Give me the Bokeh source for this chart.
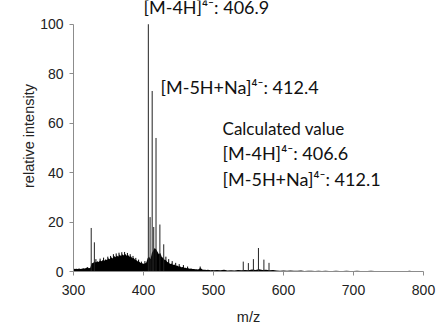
from bokeh.plotting import figure
from bokeh.models import Range1d, FixedTicker, ColumnDataSource
from bokeh.core.properties import value
from bokeh.embed import file_html
from bokeh.resources import INLINE

# ---------------- data ----------------
# broad background envelope (m/z, relative intensity %)
env_mz = [300, 302, 304, 306, 308, 310, 312, 314, 316, 318, 320, 322, 324,
          326, 328, 330, 332, 334, 336, 338, 340, 342, 344, 346, 348, 350,
          352, 354, 356, 358, 360, 362, 364, 366, 368, 370, 372, 374, 376,
          378, 380, 382, 384, 386, 388, 390, 392, 394, 396, 398, 400, 402,
          404, 406, 408, 410, 412, 414, 416, 418, 420, 422, 424, 426, 428,
          430, 432, 434, 436, 438, 440, 442, 444, 446, 448, 450, 452, 454,
          456, 458, 460, 462, 464, 466, 468, 470, 472, 474, 476, 478, 480,
          482, 484, 486, 488, 490, 492, 494, 496, 498, 500,
          505, 510, 515, 520, 525, 530, 535, 540, 545, 550, 555, 560, 565,
          570, 575, 580, 585, 590, 595, 600, 605, 610, 615, 620, 625, 630,
          635, 640, 645, 650, 655, 660, 665, 670, 675, 680, 685, 690, 695,
          700, 705, 710, 715, 720, 725, 730, 735, 740, 745, 750, 755, 760,
          765, 770, 775, 780, 785, 790, 795, 800]
env_int = [1.2, 1.0, 1.1, 1.0, 1.2, 1.0, 1.1, 1.3, 1.2, 1.4, 1.8, 1.3, 1.5,
           3.3, 3.4, 4.0, 3.6, 4.1, 3.8, 4.4, 4.1, 4.7, 4.3, 5.0, 4.6, 5.4,
           5.0, 5.8, 5.3, 6.3, 5.8, 6.5, 6.0, 6.9, 6.2, 7.0, 6.5, 7.1, 6.4,
           6.7, 6.0, 6.2, 5.4, 5.5, 4.8, 4.6, 4.0, 3.9, 3.4, 3.3, 3.1, 3.2,
           3.6, 5.5, 6.0, 5.0, 7.5, 8.5, 9.5, 9.0, 8.0, 7.0, 7.5, 6.0, 5.5,
           4.8, 4.5, 3.8, 3.6, 3.0, 3.2, 2.6, 2.8, 2.3, 2.4, 2.0, 2.1, 1.7,
           1.8, 1.5, 1.5, 1.3, 1.3, 1.1, 1.2, 1.0, 1.0, 0.9, 0.9, 0.8, 1.2,
           1.3, 0.8, 0.7, 0.7, 0.6, 0.7, 0.6, 0.5, 0.6, 0.5,
           0.6, 0.5, 0.7, 0.4, 0.5, 0.4, 0.6, 0.5, 0.6, 0.5, 0.8, 0.6, 0.9,
           0.6, 0.7, 0.5, 0.6, 0.4, 0.3, 0.4, 0.3, 0.4, 0.3, 0.3, 0.4, 0.2,
           0.3, 0.3, 0.2, 0.3, 0.2, 0.3, 0.2, 0.2, 0.3, 0.2, 0.2, 0.3, 0.2,
           0.2, 0.3, 0.2, 0.2, 0.2, 0.3, 0.2, 0.2, 0.2, 0.2, 0.2, 0.2, 0.1,
           0.2, 0.2, 0.1, 0.3, 0.1, 0.2, 0.2, 0.1]

# small noise spikes riding on the background
noise_mz = [332, 338, 343, 349, 353, 357, 361, 365, 369, 373, 377, 381,
            385, 389, 393, 397, 402, 432, 436, 441, 446, 451, 457, 463, 481]
noise_int = [5.0, 5.2, 5.6, 6.0, 6.3, 7.0, 7.3, 7.6, 7.8, 7.9, 7.5, 7.0,
             6.3, 5.5, 4.8, 4.0, 4.2, 6.0, 5.0, 4.2, 3.5, 3.0, 2.6, 2.0, 2.0]

# discrete peaks (m/z, relative intensity %)
peak_mz = [325.3, 329.8, 406.9, 409.4, 412.4, 414.6, 417.9, 423.4, 428.9,
           542.5, 549.8, 557.0, 564.2, 572.0, 579.3]
peak_int = [17.6, 11.8, 100.0, 22.0, 73.0, 18.0, 54.0, 19.0, 11.0,
            4.0, 3.4, 5.0, 9.5, 4.8, 3.5]

x_ticks = [300, 400, 500, 600, 700, 800]
y_ticks = [0, 20, 40, 60, 80, 100]

annot_text = ["[M-4H]\u2074\u207b: 406.9",
              "[M-5H+Na]\u2074\u207b: 412.4",
              "Calculated value",
              "[M-4H]\u2074\u207b: 406.6",
              "[M-5H+Na]\u2074\u207b: 412.1"]

x_label = "m/z"
y_label = "relative intensity"

# ---------------- layout ----------------
annot_x = [400.0, 424.3, 512.9, 512.9, 512.9]
annot_y = [106.9, 74.8, 57.8, 48.1, 37.5]
annot_fs = ["18px", "18px", "17px", "18px", "18px"]

p = figure(width=443, height=336, output_backend="svg", toolbar_location=None,
           x_range=Range1d(300, 800), y_range=Range1d(0, 109.6),
           min_border_left=73, min_border_right=20, min_border_top=0,
           min_border_bottom=65)
p.outline_line_color = None
p.grid.visible = False
p.background_fill_color = "white"
p.border_fill_color = "white"

p.varea(x=env_mz, y1=[0] * len(env_mz), y2=env_int, fill_color="black")
p.segment(x0=noise_mz, y0=[0] * len(noise_mz), x1=noise_mz, y1=noise_int,
          line_color="black", line_width=1)
p.segment(x0=peak_mz, y0=[0] * len(peak_mz), x1=peak_mz, y1=peak_int,
          line_color="#222222", line_width=1)

src = ColumnDataSource(dict(x=annot_x, y=annot_y, t=annot_text, fs=annot_fs))
p.text(x="x", y="y", text="t", source=src, text_font=value("Lato"),
       text_font_size="fs", text_color="#111111",
       text_baseline="alphabetic", text_align="left")

for ax, ticks in ((p.xaxis[0], x_ticks), (p.yaxis[0], y_ticks)):
    ax.ticker = FixedTicker(ticks=ticks)
    ax.minor_tick_line_color = None
    ax.axis_line_color = "#8c8c8c"
    ax.major_tick_line_color = "#8c8c8c"
    ax.major_tick_in = 0
    ax.major_tick_out = 4
    ax.major_label_text_font = "Liberation Sans"
    ax.major_label_text_font_size = "14px"
    ax.major_label_text_color = "#222222"
    ax.axis_label_text_font = "Liberation Sans"
    ax.axis_label_text_font_size = "14.5px"
    ax.axis_label_text_font_style = "normal"
    ax.axis_label_text_color = "#222222"

p.xaxis.bounds = (300, 800)
p.yaxis.bounds = (0, 100)
p.xaxis.axis_label = x_label
p.yaxis.axis_label = y_label
p.xaxis.major_label_standoff = 9
p.xaxis.axis_label_standoff = 11
p.yaxis.major_label_standoff = 6
p.yaxis.axis_label_standoff = 0
p.yaxis.axis_label_text_baseline = "top"

open("out.html", "w").write(file_html(p, INLINE))
